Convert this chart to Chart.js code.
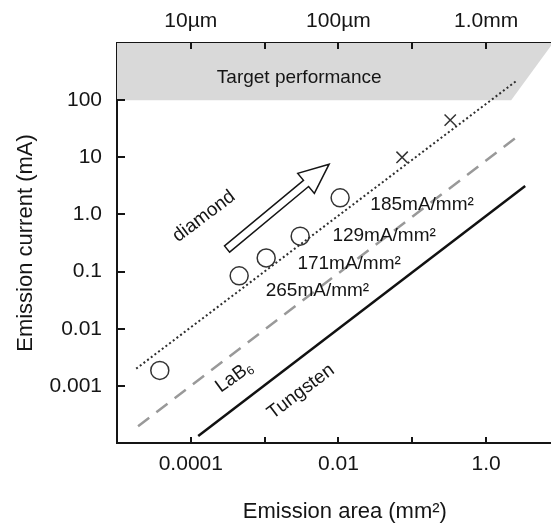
<!DOCTYPE html>
<html>
<head>
<meta charset="utf-8">
<script src="https://cdn.jsdelivr.net/npm/chart.js@4/dist/chart.umd.min.js"></script>
<style>
  html, body { margin: 0; padding: 0; background: #fff; }
  #wrap { width: 551px; height: 525px; position: relative; }
</style>
</head>
<body>
<div id="wrap"><canvas id="chart"></canvas></div>
<script>
// emission area (mm^2) vs emission current (mA)
const diamondLineX = [1.82e-5, 2.64];
const diamondLineY = [0.002, 222];
const lab6LineX = [1.93e-5, 2.9];
const lab6LineY = [1.97e-4, 25.1];
const tungstenLineX = [1.26e-4, 3.39];
const tungstenLineY = [1.32e-4, 3.15];
const circleX = [3.8e-5, 4.52e-4, 1.05e-3, 3.03e-3, 0.01054];
const circleY = [1.86e-3, 0.0841, 0.173, 0.416, 1.95];
const crossX = [0.0729, 0.327];
const crossY = [10, 44.7];
const targetX = [1e-5, 2.19, 8.1];
const targetY = [100, 100, 1000];

const xTickValues = [1e-4, 1e-3, 1e-2, 1e-1, 1];
const xTickLabels = ['0.0001', '', '0.01', '', '1.0'];
const topTickLabels = ['10\u00b5m', '', '100\u00b5m', '', '1.0mm'];
const yTickValues = [1e-3, 1e-2, 1e-1, 1, 10, 100];
const yTickLabels = ['0.001', '0.01', '0.1', '1.0', '10', '100'];

// free text on the plot, anchored in data coordinates
const notes = [
  { text: 'Target performance', x: 0.00294, y: 244, rot: 0 },
  { text: 'diamond', x: 1.51e-4, y: 0.92, rot: -37 },
  { text: '185mA/mm\u00b2', x: 0.136, y: 1.47, rot: 0 },
  { text: '129mA/mm\u00b2', x: 0.0416, y: 0.416, rot: 0 },
  { text: '171mA/mm\u00b2', x: 0.01396, y: 0.138, rot: 0 },
  { text: '265mA/mm\u00b2', x: 0.0052, y: 0.0455, rot: 0 },
  { text: 'LaB', sub: '6', x: 3.86e-4, y: 0.00143, rot: -36 },
  { text: 'Tungsten', x: 0.0031, y: 7.9e-4, rot: -37 },
];
const arrowFrom = { x: 3.1e-4, y: 0.248 };
const arrowTo = { x: 7.48e-3, y: 7.57 };

const FONT = "'Liberation Sans', Arial, Helvetica, sans-serif";
const INK = '#151515';

function pts(xs, ys) {
  return xs.map(function(x, i) { return { x: x, y: ys[i] }; });
}
function decadeLabel(values, labels) {
  return function(v) {
    const i = values.findIndex(function(t) { return Math.abs(Math.log10(t) - Math.log10(v)) < 1e-6; });
    return i < 0 ? '' : labels[i];
  };
}
function noPad(s) {
  s.paddingLeft = 0; s.paddingRight = 0; s.paddingTop = 0; s.paddingBottom = 0;
}

const inwardTicks = {
  id: 'inwardTicks',
  afterDraw(chart) {
    const { ctx, chartArea: a, scales } = chart;
    ctx.save();
    ctx.strokeStyle = INK;
    ctx.lineWidth = 2;
    ctx.beginPath();
    xTickValues.forEach(function(v) {
      const px = Math.round(scales.x.getPixelForValue(v));
      ctx.moveTo(px, a.bottom); ctx.lineTo(px, a.bottom - 6);
      ctx.moveTo(px, a.top); ctx.lineTo(px, a.top + 6);
    });
    yTickValues.forEach(function(v) {
      const py = Math.round(scales.y.getPixelForValue(v));
      ctx.moveTo(a.left, py); ctx.lineTo(a.left + 8, py);
    });
    ctx.stroke();

    // x axis title, sits a little right of the axis centre in the original
    ctx.fillStyle = INK;
    ctx.font = '22px ' + FONT;
    ctx.textAlign = 'center';
    ctx.textBaseline = 'middle';
    ctx.fillText('Emission area (mm\u00b2)', a.left + (a.right - a.left) * 0.525, chart.height - 13);
    ctx.restore();
  },
};

const annotations = {
  id: 'annotations',
  afterDatasetsDraw(chart) {
    const { ctx, scales } = chart;
    const sx = scales.x, sy = scales.y;
    ctx.save();
    ctx.fillStyle = INK;
    ctx.textAlign = 'center';
    ctx.textBaseline = 'middle';
    notes.forEach(function(n) {
      ctx.save();
      ctx.translate(sx.getPixelForValue(n.x), sy.getPixelForValue(n.y));
      ctx.rotate(n.rot * Math.PI / 180);
      ctx.font = '19px ' + FONT;
      if (n.sub) {
        const w1 = ctx.measureText(n.text).width;
        ctx.font = '12px ' + FONT;
        const w2 = ctx.measureText(n.sub).width;
        const x0 = -(w1 + w2) / 2;
        ctx.textAlign = 'left';
        ctx.font = '19px ' + FONT;
        ctx.fillText(n.text, x0, 0);
        ctx.font = '12px ' + FONT;
        ctx.fillText(n.sub, x0 + w1, 5);
      } else {
        ctx.fillText(n.text, 0, 0);
      }
      ctx.restore();
    });

    // hollow arrow
    const x1 = sx.getPixelForValue(arrowFrom.x), y1 = sy.getPixelForValue(arrowFrom.y);
    const x2 = sx.getPixelForValue(arrowTo.x), y2 = sy.getPixelForValue(arrowTo.y);
    const len = Math.hypot(x2 - x1, y2 - y1);
    const ux = (x2 - x1) / len, uy = (y2 - y1) / len;
    const nx = -uy, ny = ux;
    const sw = 4, hw = 13, hl = 30;
    const bx = x2 - ux * hl, by = y2 - uy * hl;
    ctx.beginPath();
    ctx.moveTo(x1 + nx * sw, y1 + ny * sw);
    ctx.lineTo(bx + nx * sw, by + ny * sw);
    ctx.lineTo(bx + nx * hw, by + ny * hw);
    ctx.lineTo(x2, y2);
    ctx.lineTo(bx - nx * hw, by - ny * hw);
    ctx.lineTo(bx - nx * sw, by - ny * sw);
    ctx.lineTo(x1 - nx * sw, y1 - ny * sw);
    ctx.closePath();
    ctx.fillStyle = '#fff';
    ctx.fill();
    ctx.strokeStyle = INK;
    ctx.lineWidth = 1.5;
    ctx.lineJoin = 'miter';
    ctx.stroke();
    ctx.restore();
  },
};

const tickFont = { family: FONT, size: 21 };
const titleFont = { family: FONT, size: 22 };

new Chart(document.getElementById('chart'), {
  type: 'scatter',
  data: {
    datasets: [
      {
        label: 'diamond',
        type: 'line',
        data: pts(diamondLineX, diamondLineY),
        borderColor: '#2e2e2e',
        borderWidth: 2,
        borderDash: [2, 2.6],
        pointRadius: 0,
        fill: false,
      },
      {
        label: 'LaB6',
        type: 'line',
        data: pts(lab6LineX, lab6LineY),
        borderColor: '#999',
        borderWidth: 2.5,
        borderDash: [14, 9],
        pointRadius: 0,
        fill: false,
      },
      {
        label: 'Tungsten',
        type: 'line',
        data: pts(tungstenLineX, tungstenLineY),
        borderColor: '#111',
        borderWidth: 2.5,
        pointRadius: 0,
        fill: false,
      },
      {
        label: 'measured',
        data: pts(circleX, circleY),
        pointStyle: 'circle',
        pointRadius: 9,
        borderColor: '#333',
        borderWidth: 1.5,
        backgroundColor: 'rgba(0,0,0,0)',
      },
      {
        label: 'projected',
        data: pts(crossX, crossY),
        pointStyle: 'crossRot',
        pointRadius: 8,
        borderColor: '#333',
        borderWidth: 1.5,
      },
      {
        label: 'Target performance',
        type: 'line',
        data: pts(targetX, targetY),
        borderWidth: 0,
        pointRadius: 0,
        backgroundColor: '#d9d9d9',
        fill: 'end',
        order: 10,
      },
    ],
  },
  options: {
    responsive: true,
    maintainAspectRatio: false,
    animation: false,
    layout: { padding: 0, autoPadding: false },
    plugins: {
      legend: { display: false },
      tooltip: { enabled: false },
    },
    scales: {
      x: {
        type: 'logarithmic',
        position: 'bottom',
        min: 1e-5,
        max: Math.pow(10, 0.88),
        z: 1,
        afterBuildTicks: function(s) { s.ticks = xTickValues.map(function(v) { return { value: v }; }); },
        afterFit: function(s) { s.height = 82; noPad(s); },
        ticks: { callback: decadeLabel(xTickValues, xTickLabels), color: INK, font: tickFont, padding: 9, maxRotation: 0, autoSkip: false },
        grid: { drawOnChartArea: false, drawTicks: false },
        border: { color: INK, width: 2 },
      },
      x2: {
        type: 'logarithmic',
        position: 'top',
        min: 1e-5,
        max: Math.pow(10, 0.88),
        z: 1,
        afterBuildTicks: function(s) { s.ticks = xTickValues.map(function(v) { return { value: v }; }); },
        afterFit: function(s) { s.height = 43; noPad(s); },
        ticks: { callback: decadeLabel(xTickValues, topTickLabels), color: INK, font: tickFont, padding: 9, maxRotation: 0, autoSkip: false },
        grid: { drawOnChartArea: false, drawTicks: false },
        border: { color: INK, width: 2 },
      },
      y: {
        type: 'logarithmic',
        position: 'left',
        min: 1e-4,
        max: 1e3,
        z: 1,
        afterBuildTicks: function(s) { s.ticks = yTickValues.map(function(v) { return { value: v }; }); },
        afterFit: function(s) { s.width = 117; noPad(s); },
        ticks: { callback: decadeLabel(yTickValues, yTickLabels), color: INK, font: tickFont, padding: 15, autoSkip: false },
        grid: { drawOnChartArea: false, drawTicks: false },
        border: { color: INK, width: 2 },
        title: { display: true, text: 'Emission current (mA)', color: INK, font: titleFont, padding: { top: 13, bottom: 0 } },
      },
    },
  },
  plugins: [inwardTicks, annotations],
});
</script>
</body>
</html>
